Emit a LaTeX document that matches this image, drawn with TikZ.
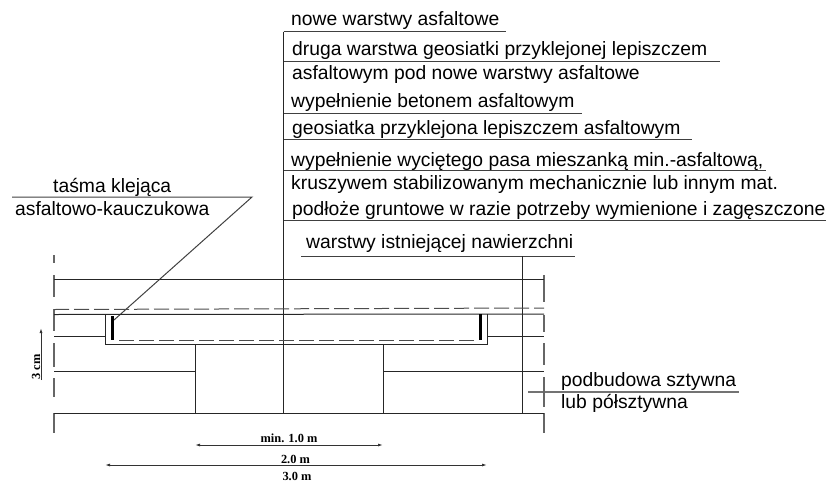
\documentclass[tikz,border=0pt]{standalone}
\usepackage{fontspec}
\setmainfont{Liberation Sans}
\newfontfamily\dimfont{Liberation Serif}
\usetikzlibrary{arrows.meta}
\tikzset{
  lab/.style={anchor=base west,inner sep=0pt,font=\fontsize{19.3}{22}\selectfont},
  dimlab/.style={anchor=base,inner sep=0pt,font=\dimfont\bfseries\fontsize{12.4}{14}\selectfont},
  ruleline/.style={line width=1pt,black!75},
  cutline/.style={line width=1pt,black!85},
  edgeline/.style={line width=1.2pt,black!60},
  dashline/.style={line width=1pt,black!70,dash pattern=on 15pt off 5pt},
  tapeline/.style={line width=3.2pt,black},
  dimline/.style={line width=.9pt,black!80,-{Latex[length=5pt,width=3pt]}},
}
\begin{document}
\begin{tikzpicture}[x=1pt,y=-1pt]
\useasboundingbox (0,0) rectangle (830,482);
% --- labels
\node[lab] (t1) at (291,25) {nowe warstwy asfaltowe};
\node[lab] (t2) at (292,55) {druga warstwa geosiatki przyklejonej lepiszczem};
\node[lab] (t3) at (292,79) {asfaltowym pod nowe warstwy asfaltowe};
\node[lab] (t4) at (291,107) {wypełnienie betonem asfaltowym};
\node[lab] (t5) at (292,134) {geosiatka przyklejona lepiszczem asfaltowym};
\node[lab] (t6) at (291,166) {wypełnienie wyciętego pasa mieszanką min.-asfaltową,};
\node[lab] (t7) at (291,189) {kruszywem stabilizowanym mechanicznie lub innym mat.};
\node[lab] (t8) at (292,215) {podłoże gruntowe w razie potrzeby wymienione i zagęszczone};
\node[lab] (t9) at (306,248) {warstwy istniejącej nawierzchni};
\node[lab] (t10) at (53,192.5) {taśma klejąca};
\node[lab] (t11) at (15,215) {asfaltowo-kauczukowa};
\node[lab] (t12) at (561,386) {podbudowa sztywna};
\node[lab] (t13) at (561,408) {lub półsztywna};
% --- anchor points of the drawing
\coordinate (cT) at (283.5,31.5);
\coordinate (cB) at (283.5,413.5);
\coordinate (u1) at (506,31.5);
\coordinate (u2a) at (283.5,61); \coordinate (u2) at (720,61);
\coordinate (u4a) at (283.5,113); \coordinate (u4) at (582,113);
\coordinate (u5a) at (283.5,139); \coordinate (u5) at (692,139);
\coordinate (u6a) at (283.5,170); \coordinate (u6) at (766,170);
\coordinate (u8a) at (283.5,220); \coordinate (u8) at (826,220);
\coordinate (u9a) at (301,256); \coordinate (u9) at (575,256);
\coordinate (vT) at (522,256); \coordinate (vB) at (522,413.5);
\coordinate (ta) at (12,197); \coordinate (tb) at (252,197); \coordinate (tc) at (114,320);
\coordinate (pa) at (528,392); \coordinate (pb) at (739,392);
% --- leader rules
\draw[line width=1.1pt,black!85] (cT) -- (cB);
\draw[ruleline] (cT) -- (u1);
\draw[ruleline] (u2a) -- (u2);
\draw[ruleline] (u4a) -- (u4);
\draw[ruleline] (u5a) -- (u5);
\draw[ruleline] (u6a) -- (u6);
\draw[ruleline] (u8a) -- (u8);
\draw[ruleline] (u9a) -- (u9);
\draw[line width=.9pt,black!85] (vT) -- (vB);
\draw[ruleline,line join=miter] (ta) -- (tb) -- (tc);
\draw[line width=1.1pt,black!55] (pa) -- (pb);
% --- section edges (broken)
\foreach \a/\b in {255/263,275/297,309/331,343/367,378/397,413/433}
  \draw[edgeline] (54,\a) -- (54,\b);
\foreach \a/\b in {275/302,315/332,343/365,377/407,413/433}
  \draw[edgeline] (544,\a) -- (544,\b);
% --- pavement layers
\draw[cutline] (54,279) -- (544,279);
\draw[dashline] (54,309.5) -- (544,308);
\draw[cutline] (54,314.5) -- (544,314);
\draw[cutline] (54,336.5) -- (105,336.5);
\draw[cutline] (487,336) -- (544,336);
\draw[cutline] (54,371) -- (195,371);
\draw[cutline] (383,371) -- (544,371);
\draw[line width=1.2pt,black!85] (54,413.5) -- (544,413.5);
% --- trench
\draw[cutline] (105,314) -- (105,344) -- (487,344) -- (487,314);
\draw[dashline] (119,340) -- (476,340);
\draw[tapeline] (112.8,316) -- (112.8,340);
\draw[tapeline] (480.5,314) -- (480.5,340);
\draw[cutline] (195,344) -- (195,413.5);
\draw[cutline] (383,344) -- (383,413.5);
% --- dimensions
\coordinate (d1) at (195,445); \coordinate (d2) at (383,445);
\coordinate (e1) at (105,465); \coordinate (e2) at (487,465);
\coordinate (h1) at (41,380); \coordinate (h2) at (41,328);
\draw[dimline] (283.5,445) -- (d1);
\draw[dimline] (283.5,445) -- (d2);
\draw[dimline] (283.5,465) -- (e1);
\draw[dimline] (283.5,465) -- (e2);
\draw[dimline] (h1) -- (h2);
\node[dimlab] (m1) at (289,442) {min. 1.0 m};
\node[dimlab] (m2) at (295.5,463.5) {2.0 m};
\node[dimlab] (m3) at (297,480) {3.0 m};
\node[dimlab,rotate=90,anchor=base] (m4) at (40,367) {3 cm};
\end{tikzpicture}
\end{document}
